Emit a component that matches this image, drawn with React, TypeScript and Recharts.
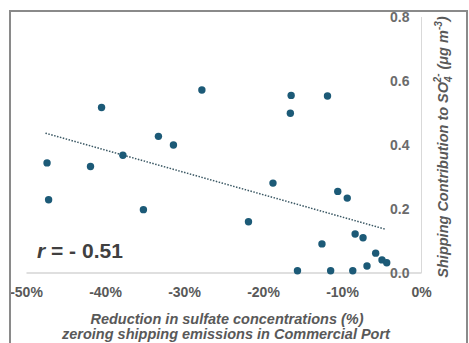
import { ScatterChart, Scatter, XAxis, YAxis, ReferenceLine, Customized } from 'recharts';

// values
const reductionPct = [-47.4, -47.2, -41.9, -40.5, -37.8, -35.2, -33.3, -31.4, -27.8, -21.9, -18.8, -16.5, -16.6, -15.7, -12.6, -11.9, -11.5, -10.6, -9.4, -8.7, -8.4, -7.4, -6.9, -5.8, -5.0, -4.4];
const shippingContribution = [0.344, 0.229, 0.333, 0.517, 0.368, 0.198, 0.427, 0.4, 0.572, 0.16, 0.281, 0.555, 0.499, 0.007, 0.091, 0.553, 0.007, 0.255, 0.234, 0.007, 0.122, 0.11, 0.022, 0.062, 0.041, 0.032];
const xTicks = [-50, -40, -30, -20, -10, 0];
const yTicks = [0, 0.2, 0.4, 0.6, 0.8];
const trendX = [-47.6, -4.6];
const trendY = [0.437, 0.137];

const points = reductionPct.map((x, i) => ({ x, y: shippingContribution[i] }));

const font = '"Liberation Sans", Arial, sans-serif';
const textGray = '#595959';
const dotColor = '#1c5a77';

const Dot = (props: any) => <circle cx={props.cx} cy={props.cy} r={3.7} fill={dotColor} />;

const Texts = () => (
  <g fontFamily={font} fontWeight="bold">
    <text x={37} y={258} fontSize={21} fill="#404040">
      <tspan fontStyle="italic">r</tspan> = - 0.51
    </text>
    <text x={227} y={324} fontSize={14.5} fontStyle="italic" fill={textGray} textAnchor="middle">
      Reduction in sulfate concentrations (%)
    </text>
    <text x={226} y={339} fontSize={14.5} fontStyle="italic" fill={textGray} textAnchor="middle">
      zeroing shipping emissions in Commercial Port
    </text>
    <text
      transform="translate(448,147) rotate(-90)"
      fontSize={14.5}
      fontStyle="italic"
      fill={textGray}
      textAnchor="middle"
    >
      Shipping Contribution to SO
      <tspan fontSize={10} dy={4}>4</tspan>
      <tspan fontSize={10} dy={-11} dx={-6}>2-</tspan>
      <tspan dy={7}> (μg m</tspan>
      <tspan fontSize={10} dy={-6}>-3</tspan>
      <tspan dy={6}>)</tspan>
    </text>
  </g>
);

export default function App() {
  return (
    <div style={{ position: 'absolute', left: 0, top: 0, width: 469, height: 343, background: '#fff', overflow: 'hidden' }}>
      <ScatterChart width={469} height={343} margin={{ top: 17, right: 47.5, left: 26.5, bottom: 40 }}>
        <XAxis
          type="number"
          dataKey="x"
          domain={[-50, 0]}
          ticks={xTicks}
          tickFormatter={(v: number) => `${v}%`}
          height={30}
          tickLine={false}
          tickMargin={8}
          stroke="#bfbfbf"
          tick={{ fill: textGray, fontSize: 14, fontWeight: 'bold', fontFamily: font }}
        />
        <YAxis
          type="number"
          dataKey="y"
          orientation="right"
          mirror
          width={20}
          domain={[0, 0.8]}
          ticks={yTicks}
          tickFormatter={(v: number) => v.toFixed(1)}
          tickLine={false}
          tickMargin={6}
          stroke="#d9d9d9"
          tick={{ fill: '#6b6b6b', fontSize: 14, fontWeight: 'bold', fontFamily: font }}
        />
        <ReferenceLine
          segment={[
            { x: trendX[0], y: trendY[0] },
            { x: trendX[1], y: trendY[1] },
          ]}
          stroke="#3b5864"
          strokeWidth={1.5}
          strokeDasharray="1.5 1.5"
        />
        <Scatter data={points} shape={<Dot />} isAnimationActive={false} />
        <Customized component={Texts} />
      </ScatterChart>
      <div
        style={{
          position: 'absolute',
          left: 9,
          top: 10,
          width: 455,
          height: 340,
          border: '2px solid #8a8a8a',
          pointerEvents: 'none',
        }}
      />
    </div>
  );
}
